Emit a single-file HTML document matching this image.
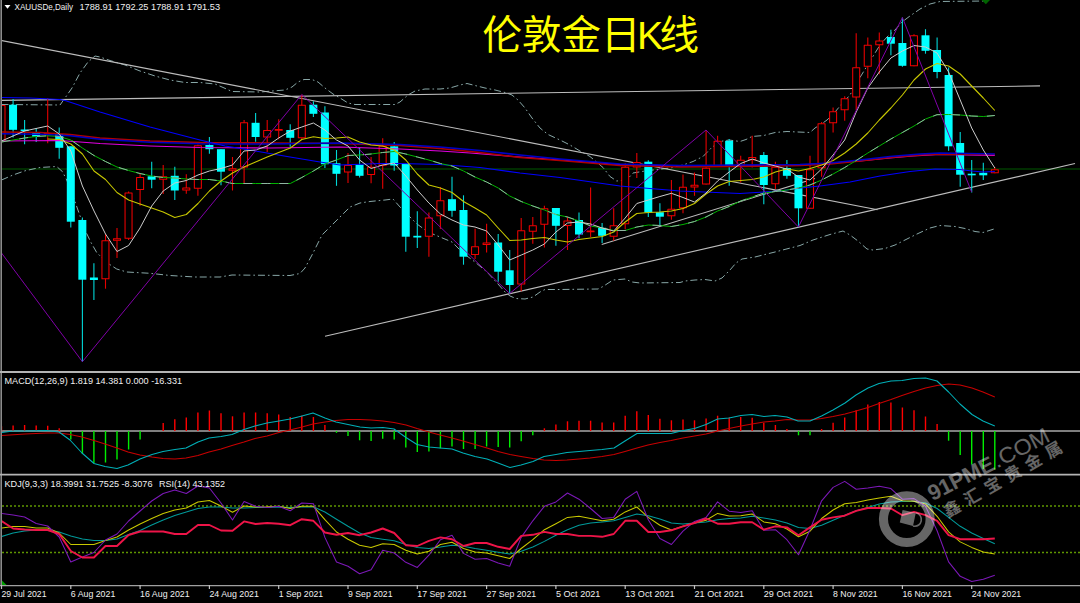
<!DOCTYPE html>
<html><head><meta charset="utf-8"><title>XAUUSD Daily</title>
<style>html,body{margin:0;padding:0;background:#000;}body{width:1080px;height:603px;overflow:hidden;position:relative;font-family:"Liberation Sans",sans-serif;}</style></head>
<body>
<svg width="1080" height="603" viewBox="0 0 1080 603" style="display:block;position:absolute;left:0;top:0">
<rect x="0" y="0" width="1080" height="603" fill="#000"/>
<defs><clipPath id="cm"><rect x="2" y="0" width="1078" height="371"/></clipPath><clipPath id="ck"><rect x="2" y="476" width="1078" height="109"/></clipPath><clipPath id="cd"><rect x="2" y="374" width="1078" height="100"/></clipPath></defs>
<g clip-path="url(#cm)" stroke-linecap="butt" stroke-linejoin="round">
<line x1="2.0" y1="169.0" x2="1080.0" y2="169.0" stroke="#005800" stroke-width="1.1" />
<polyline points="1.5,104.5 60.0,105.0 65.0,98.0 72.0,88.0 80.0,73.0 88.0,62.0 95.0,56.0 100.0,57.0 110.0,60.5 125.0,65.0 140.0,71.0 155.0,76.0 170.0,80.0 185.0,82.5 200.0,82.5 215.0,84.0 222.0,87.0 232.0,91.5 260.0,92.0 285.0,90.0 292.0,87.0 298.0,82.0 304.0,79.5 312.0,79.5 318.0,82.0 325.0,88.0 333.0,94.0 340.0,98.0 348.0,103.0 355.0,104.5 395.0,104.5 400.0,102.0 408.0,95.0 415.0,91.0 425.0,89.0 440.0,89.0 450.0,88.0 460.0,85.0 467.0,83.5 475.0,85.5 485.0,88.0 495.0,90.0 505.0,92.5 512.0,95.0 518.0,100.0 525.0,108.0 532.0,118.0 540.0,128.0 548.0,134.5 560.0,140.0 570.0,145.0 580.0,151.0 590.0,156.5 603.0,167.5 610.0,176.5 616.7,181.0 626.7,180.0 633.0,173.0 645.0,171.0 670.0,168.0 683.0,165.0 693.0,161.5 703.0,156.5 711.7,147.5 720.0,141.5 729.0,140.0 740.0,141.5 746.0,139.5 752.0,136.5 763.8,135.5 775.0,132.5 787.0,131.5 798.0,132.0 810.0,132.5 815.0,128.0 821.5,124.0 827.0,120.0 833.0,114.5 840.0,106.0 850.0,95.0 856.0,84.0 867.0,66.0 880.0,45.0 887.0,37.0 895.0,30.0 902.0,22.0 910.0,16.0 920.0,9.0 930.0,4.0 940.0,1.5 985.0,1.0" fill="none" stroke="#8fb0b0" stroke-width="0.95" stroke-dasharray="7 3 1.6 3"/>
<polyline points="1.5,180.0 13.0,175.0 25.0,170.8 40.0,167.5 56.7,166.5 62.5,171.7 66.7,180.0 70.0,188.0 75.0,201.7 79.0,213.0 85.0,230.0 91.0,242.5 96.7,252.5 106.7,262.5 116.7,269.0 126.7,272.0 150.0,273.3 170.0,275.5 195.0,277.0 220.0,277.0 232.0,275.0 290.0,275.5 300.0,273.5 305.0,268.0 312.0,255.0 322.0,235.0 330.0,227.0 340.0,217.0 350.0,207.0 360.0,203.0 370.0,201.5 385.0,200.0 393.0,199.0 400.0,207.0 411.0,218.0 417.0,224.0 428.0,232.0 440.0,237.0 452.0,242.0 463.0,253.0 475.0,262.0 487.0,272.0 498.0,284.0 505.0,292.0 510.0,296.0 516.0,298.5 525.0,299.0 533.0,297.0 540.0,292.0 545.0,289.5 560.0,289.5 598.0,289.0 603.0,286.5 613.0,280.0 625.0,279.0 632.0,282.0 640.0,283.0 680.0,282.5 685.0,281.0 695.0,280.0 705.0,279.5 715.0,281.0 722.0,278.0 730.0,270.0 736.0,263.0 742.0,259.0 755.0,257.0 775.0,252.0 800.0,245.5 813.0,240.0 830.0,234.5 843.0,231.0 850.0,235.0 858.0,241.0 867.0,249.0 873.0,250.0 885.0,248.5 895.0,245.0 905.0,240.0 917.0,234.0 930.0,228.0 940.0,225.5 955.0,226.5 965.0,228.5 975.0,231.5 983.0,232.5 994.0,229.0" fill="none" stroke="#8fb0b0" stroke-width="0.95" stroke-dasharray="7 3 1.6 3"/>
<line x1="0.0" y1="40.2" x2="877.5" y2="209.7" stroke="#bcbcbc" stroke-width="1.1" />
<line x1="0.0" y1="100.4" x2="1040.0" y2="85.9" stroke="#bcbcbc" stroke-width="1.1" />
<line x1="325.0" y1="336.2" x2="1075.0" y2="163.5" stroke="#bcbcbc" stroke-width="1.1" />
<line x1="601.7" y1="244.5" x2="815.0" y2="178.5" stroke="#bcbcbc" stroke-width="1.1" />
<line x1="1.5" y1="105.0" x2="1.5" y2="142.0" stroke="#e60000" stroke-width="1.1" />
<rect x="-2.00" y="105.5" width="7" height="36.0" fill="#000" stroke="#f00000" stroke-width="1.05"/>
<line x1="13.1" y1="99.0" x2="13.1" y2="137.5" stroke="#00d8d8" stroke-width="1.1" />
<rect x="9.05" y="104.7" width="8" height="25.1" fill="#00ffff"/>
<line x1="24.6" y1="120.0" x2="24.6" y2="144.2" stroke="#00d8d8" stroke-width="1.1" />
<rect x="20.60" y="129.5" width="8" height="1.6" fill="#00ffff"/>
<line x1="36.2" y1="128.3" x2="36.2" y2="142.0" stroke="#00d8d8" stroke-width="1.1" />
<rect x="32.15" y="132.5" width="8" height="4.2" fill="#00ffff"/>
<line x1="47.7" y1="98.3" x2="47.7" y2="143.3" stroke="#e60000" stroke-width="1.1" />
<rect x="44.20" y="133.5" width="7" height="0.8" fill="#000" stroke="#f00000" stroke-width="1.05"/>
<line x1="59.2" y1="127.5" x2="59.2" y2="158.7" stroke="#00d8d8" stroke-width="1.1" />
<rect x="55.25" y="134.2" width="8" height="13.6" fill="#00ffff"/>
<line x1="70.8" y1="146.3" x2="70.8" y2="227.5" stroke="#00d8d8" stroke-width="1.1" />
<rect x="66.80" y="146.3" width="8" height="75.4" fill="#00ffff"/>
<line x1="82.4" y1="217.5" x2="82.4" y2="361.7" stroke="#00d8d8" stroke-width="1.1" />
<rect x="78.35" y="220.0" width="8" height="59.7" fill="#00ffff"/>
<line x1="93.9" y1="263.3" x2="93.9" y2="300.0" stroke="#00d8d8" stroke-width="1.1" />
<rect x="89.90" y="277.5" width="8" height="2.5" fill="#00ffff"/>
<line x1="105.5" y1="234.2" x2="105.5" y2="288.7" stroke="#e60000" stroke-width="1.1" />
<rect x="101.95" y="240.8" width="7" height="37.9" fill="#000" stroke="#f00000" stroke-width="1.05"/>
<line x1="117.0" y1="228.0" x2="117.0" y2="258.0" stroke="#e60000" stroke-width="1.1" />
<rect x="113.50" y="238.8" width="7" height="1.5" fill="#000" stroke="#f00000" stroke-width="1.05"/>
<line x1="128.6" y1="191.5" x2="128.6" y2="240.0" stroke="#e60000" stroke-width="1.1" />
<rect x="125.05" y="193.0" width="7" height="45.2" fill="#000" stroke="#f00000" stroke-width="1.05"/>
<line x1="140.1" y1="173.3" x2="140.1" y2="205.8" stroke="#e60000" stroke-width="1.1" />
<rect x="136.60" y="177.5" width="7" height="12.0" fill="#000" stroke="#f00000" stroke-width="1.05"/>
<line x1="151.7" y1="161.7" x2="151.7" y2="188.3" stroke="#00d8d8" stroke-width="1.1" />
<rect x="147.65" y="176.3" width="8" height="3.4" fill="#00ffff"/>
<line x1="163.2" y1="165.0" x2="163.2" y2="194.0" stroke="#e60000" stroke-width="1.1" />
<rect x="159.70" y="176.8" width="7" height="2.4" fill="#000" stroke="#f00000" stroke-width="1.05"/>
<line x1="174.8" y1="166.7" x2="174.8" y2="200.0" stroke="#00d8d8" stroke-width="1.1" />
<rect x="170.75" y="175.8" width="8" height="14.7" fill="#00ffff"/>
<line x1="186.3" y1="174.2" x2="186.3" y2="193.7" stroke="#e60000" stroke-width="1.1" />
<rect x="182.80" y="188.0" width="7" height="2.0" fill="#000" stroke="#f00000" stroke-width="1.05"/>
<line x1="197.9" y1="144.5" x2="197.9" y2="195.8" stroke="#e60000" stroke-width="1.1" />
<rect x="194.35" y="145.8" width="7" height="42.4" fill="#000" stroke="#f00000" stroke-width="1.05"/>
<line x1="209.4" y1="137.0" x2="209.4" y2="153.7" stroke="#00d8d8" stroke-width="1.1" />
<rect x="205.40" y="145.0" width="8" height="4.2" fill="#00ffff"/>
<line x1="221.0" y1="149.2" x2="221.0" y2="185.3" stroke="#00d8d8" stroke-width="1.1" />
<rect x="216.95" y="149.2" width="8" height="22.5" fill="#00ffff"/>
<line x1="232.5" y1="157.0" x2="232.5" y2="190.5" stroke="#e60000" stroke-width="1.1" />
<rect x="229.00" y="168.8" width="7" height="1.5" fill="#000" stroke="#f00000" stroke-width="1.05"/>
<line x1="244.1" y1="120.0" x2="244.1" y2="183.0" stroke="#e60000" stroke-width="1.1" />
<rect x="240.55" y="122.7" width="7" height="44.3" fill="#000" stroke="#f00000" stroke-width="1.05"/>
<line x1="255.6" y1="113.0" x2="255.6" y2="141.7" stroke="#00d8d8" stroke-width="1.1" />
<rect x="251.60" y="122.8" width="8" height="14.2" fill="#00ffff"/>
<line x1="267.2" y1="120.0" x2="267.2" y2="152.0" stroke="#e60000" stroke-width="1.1" />
<rect x="263.65" y="130.5" width="7" height="6.5" fill="#000" stroke="#f00000" stroke-width="1.05"/>
<line x1="278.7" y1="119.2" x2="278.7" y2="139.2" stroke="#e60000" stroke-width="1.1" />
<rect x="275.20" y="129.5" width="7" height="0.8" fill="#000" stroke="#f00000" stroke-width="1.05"/>
<line x1="290.2" y1="124.2" x2="290.2" y2="146.7" stroke="#00d8d8" stroke-width="1.1" />
<rect x="286.25" y="130.0" width="8" height="7.8" fill="#00ffff"/>
<line x1="301.8" y1="94.7" x2="301.8" y2="139.0" stroke="#e60000" stroke-width="1.1" />
<rect x="298.30" y="105.2" width="7" height="32.6" fill="#000" stroke="#f00000" stroke-width="1.05"/>
<line x1="313.4" y1="101.3" x2="313.4" y2="117.0" stroke="#00d8d8" stroke-width="1.1" />
<rect x="309.35" y="104.7" width="8" height="9.1" fill="#00ffff"/>
<line x1="324.9" y1="106.3" x2="324.9" y2="168.0" stroke="#00d8d8" stroke-width="1.1" />
<rect x="320.90" y="112.5" width="8" height="51.7" fill="#00ffff"/>
<line x1="336.5" y1="150.0" x2="336.5" y2="185.8" stroke="#00d8d8" stroke-width="1.1" />
<rect x="332.45" y="163.3" width="8" height="10.5" fill="#00ffff"/>
<line x1="348.0" y1="153.0" x2="348.0" y2="183.0" stroke="#e60000" stroke-width="1.1" />
<rect x="344.50" y="165.5" width="7" height="6.5" fill="#000" stroke="#f00000" stroke-width="1.05"/>
<line x1="359.6" y1="148.0" x2="359.6" y2="177.5" stroke="#00d8d8" stroke-width="1.1" />
<rect x="355.55" y="164.7" width="8" height="11.1" fill="#00ffff"/>
<line x1="371.1" y1="157.0" x2="371.1" y2="183.3" stroke="#e60000" stroke-width="1.1" />
<rect x="367.60" y="167.2" width="7" height="7.3" fill="#000" stroke="#f00000" stroke-width="1.05"/>
<line x1="382.7" y1="138.3" x2="382.7" y2="188.7" stroke="#e60000" stroke-width="1.1" />
<rect x="379.15" y="146.3" width="7" height="19.0" fill="#000" stroke="#f00000" stroke-width="1.05"/>
<line x1="394.2" y1="142.0" x2="394.2" y2="170.8" stroke="#00d8d8" stroke-width="1.1" />
<rect x="390.20" y="146.3" width="8" height="19.2" fill="#00ffff"/>
<line x1="405.8" y1="163.7" x2="405.8" y2="251.7" stroke="#00d8d8" stroke-width="1.1" />
<rect x="401.75" y="163.7" width="8" height="73.0" fill="#00ffff"/>
<line x1="417.3" y1="211.3" x2="417.3" y2="248.0" stroke="#00d8d8" stroke-width="1.1" />
<rect x="413.30" y="235.8" width="8" height="1.7" fill="#00ffff"/>
<line x1="428.9" y1="212.5" x2="428.9" y2="256.7" stroke="#e60000" stroke-width="1.1" />
<rect x="425.35" y="218.0" width="7" height="18.2" fill="#000" stroke="#f00000" stroke-width="1.05"/>
<line x1="440.4" y1="187.0" x2="440.4" y2="229.0" stroke="#e60000" stroke-width="1.1" />
<rect x="436.90" y="200.8" width="7" height="15.0" fill="#000" stroke="#f00000" stroke-width="1.05"/>
<line x1="452.0" y1="176.7" x2="452.0" y2="216.7" stroke="#00d8d8" stroke-width="1.1" />
<rect x="447.95" y="199.2" width="8" height="11.6" fill="#00ffff"/>
<line x1="463.5" y1="195.3" x2="463.5" y2="264.7" stroke="#00d8d8" stroke-width="1.1" />
<rect x="459.50" y="210.0" width="8" height="46.7" fill="#00ffff"/>
<line x1="475.1" y1="228.7" x2="475.1" y2="259.0" stroke="#e60000" stroke-width="1.1" />
<rect x="471.55" y="246.8" width="7" height="7.7" fill="#000" stroke="#f00000" stroke-width="1.05"/>
<line x1="486.6" y1="223.7" x2="486.6" y2="252.5" stroke="#e60000" stroke-width="1.1" />
<rect x="483.10" y="243.0" width="7" height="1.5" fill="#000" stroke="#f00000" stroke-width="1.05"/>
<line x1="498.2" y1="234.0" x2="498.2" y2="281.7" stroke="#00d8d8" stroke-width="1.1" />
<rect x="494.15" y="242.5" width="8" height="29.2" fill="#00ffff"/>
<line x1="509.7" y1="250.0" x2="509.7" y2="293.3" stroke="#00d8d8" stroke-width="1.1" />
<rect x="505.70" y="270.3" width="8" height="14.7" fill="#00ffff"/>
<line x1="521.2" y1="218.0" x2="521.2" y2="291.3" stroke="#e60000" stroke-width="1.1" />
<rect x="517.75" y="230.8" width="7" height="53.2" fill="#000" stroke="#f00000" stroke-width="1.05"/>
<line x1="532.8" y1="217.0" x2="532.8" y2="243.7" stroke="#e60000" stroke-width="1.1" />
<rect x="529.30" y="225.8" width="7" height="5.4" fill="#000" stroke="#f00000" stroke-width="1.05"/>
<line x1="544.4" y1="205.8" x2="544.4" y2="247.5" stroke="#e60000" stroke-width="1.1" />
<rect x="540.85" y="208.8" width="7" height="15.4" fill="#000" stroke="#f00000" stroke-width="1.05"/>
<line x1="555.9" y1="208.0" x2="555.9" y2="245.8" stroke="#00d8d8" stroke-width="1.1" />
<rect x="551.90" y="208.0" width="8" height="17.8" fill="#00ffff"/>
<line x1="567.5" y1="216.7" x2="567.5" y2="250.0" stroke="#e60000" stroke-width="1.1" />
<rect x="563.95" y="221.0" width="7" height="4.5" fill="#000" stroke="#f00000" stroke-width="1.05"/>
<line x1="579.0" y1="212.5" x2="579.0" y2="238.3" stroke="#00d8d8" stroke-width="1.1" />
<rect x="575.00" y="220.0" width="8" height="14.5" fill="#00ffff"/>
<line x1="590.6" y1="187.5" x2="590.6" y2="237.0" stroke="#e60000" stroke-width="1.1" />
<rect x="587.05" y="231.0" width="7" height="0.8" fill="#000" stroke="#f00000" stroke-width="1.05"/>
<line x1="602.1" y1="223.0" x2="602.1" y2="243.0" stroke="#00d8d8" stroke-width="1.1" />
<rect x="598.10" y="227.8" width="8" height="8.0" fill="#00ffff"/>
<line x1="613.7" y1="208.3" x2="613.7" y2="240.8" stroke="#e60000" stroke-width="1.1" />
<rect x="610.15" y="225.8" width="7" height="10.4" fill="#000" stroke="#f00000" stroke-width="1.05"/>
<line x1="625.2" y1="163.3" x2="625.2" y2="229.2" stroke="#e60000" stroke-width="1.1" />
<rect x="621.70" y="167.2" width="7" height="56.6" fill="#000" stroke="#f00000" stroke-width="1.05"/>
<line x1="636.8" y1="153.0" x2="636.8" y2="178.0" stroke="#e60000" stroke-width="1.1" />
<rect x="633.25" y="162.5" width="7" height="4.5" fill="#000" stroke="#f00000" stroke-width="1.05"/>
<line x1="648.3" y1="160.3" x2="648.3" y2="217.0" stroke="#00d8d8" stroke-width="1.1" />
<rect x="644.30" y="161.7" width="8" height="50.8" fill="#00ffff"/>
<line x1="659.9" y1="203.3" x2="659.9" y2="225.0" stroke="#00d8d8" stroke-width="1.1" />
<rect x="655.85" y="212.2" width="8" height="4.5" fill="#00ffff"/>
<line x1="671.4" y1="180.0" x2="671.4" y2="219.7" stroke="#e60000" stroke-width="1.1" />
<rect x="667.90" y="209.2" width="7" height="6.6" fill="#000" stroke="#f00000" stroke-width="1.05"/>
<line x1="683.0" y1="174.5" x2="683.0" y2="213.3" stroke="#e60000" stroke-width="1.1" />
<rect x="679.45" y="187.2" width="7" height="20.6" fill="#000" stroke="#f00000" stroke-width="1.05"/>
<line x1="694.5" y1="172.5" x2="694.5" y2="195.8" stroke="#e60000" stroke-width="1.1" />
<rect x="691.00" y="185.2" width="7" height="1.8" fill="#000" stroke="#f00000" stroke-width="1.05"/>
<line x1="706.1" y1="130.0" x2="706.1" y2="184.5" stroke="#e60000" stroke-width="1.1" />
<rect x="702.55" y="168.3" width="7" height="15.7" fill="#000" stroke="#f00000" stroke-width="1.05"/>
<line x1="717.6" y1="135.8" x2="717.6" y2="167.0" stroke="#e60000" stroke-width="1.1" />
<rect x="714.10" y="141.3" width="7" height="25.2" fill="#000" stroke="#f00000" stroke-width="1.05"/>
<line x1="729.2" y1="139.0" x2="729.2" y2="185.8" stroke="#00d8d8" stroke-width="1.1" />
<rect x="725.15" y="140.8" width="8" height="25.0" fill="#00ffff"/>
<line x1="740.7" y1="155.8" x2="740.7" y2="182.5" stroke="#e60000" stroke-width="1.1" />
<rect x="737.20" y="160.2" width="7" height="5.1" fill="#000" stroke="#f00000" stroke-width="1.05"/>
<line x1="752.2" y1="135.8" x2="752.2" y2="167.5" stroke="#e60000" stroke-width="1.1" />
<rect x="748.75" y="157.5" width="7" height="2.3" fill="#000" stroke="#f00000" stroke-width="1.05"/>
<line x1="763.8" y1="152.0" x2="763.8" y2="204.2" stroke="#00d8d8" stroke-width="1.1" />
<rect x="759.80" y="155.0" width="8" height="30.0" fill="#00ffff"/>
<line x1="775.4" y1="161.7" x2="775.4" y2="189.0" stroke="#e60000" stroke-width="1.1" />
<rect x="771.85" y="167.2" width="7" height="16.5" fill="#000" stroke="#f00000" stroke-width="1.05"/>
<line x1="786.9" y1="160.0" x2="786.9" y2="178.7" stroke="#00d8d8" stroke-width="1.1" />
<rect x="782.90" y="168.0" width="8" height="7.8" fill="#00ffff"/>
<line x1="798.5" y1="175.0" x2="798.5" y2="227.2" stroke="#00d8d8" stroke-width="1.1" />
<rect x="794.45" y="175.0" width="8" height="33.3" fill="#00ffff"/>
<line x1="810.0" y1="155.8" x2="810.0" y2="208.8" stroke="#e60000" stroke-width="1.1" />
<rect x="806.50" y="169.7" width="7" height="38.6" fill="#000" stroke="#f00000" stroke-width="1.05"/>
<line x1="821.6" y1="122.0" x2="821.6" y2="176.7" stroke="#e60000" stroke-width="1.1" />
<rect x="818.05" y="123.8" width="7" height="44.0" fill="#000" stroke="#f00000" stroke-width="1.05"/>
<line x1="833.1" y1="107.5" x2="833.1" y2="132.5" stroke="#e60000" stroke-width="1.1" />
<rect x="829.60" y="111.8" width="7" height="11.0" fill="#000" stroke="#f00000" stroke-width="1.05"/>
<line x1="844.7" y1="96.3" x2="844.7" y2="120.8" stroke="#e60000" stroke-width="1.1" />
<rect x="841.15" y="98.8" width="7" height="11.0" fill="#000" stroke="#f00000" stroke-width="1.05"/>
<line x1="856.2" y1="33.3" x2="856.2" y2="110.0" stroke="#e60000" stroke-width="1.1" />
<rect x="852.70" y="67.7" width="7" height="29.3" fill="#000" stroke="#f00000" stroke-width="1.05"/>
<line x1="867.8" y1="37.5" x2="867.8" y2="78.3" stroke="#e60000" stroke-width="1.1" />
<rect x="864.25" y="45.2" width="7" height="21.0" fill="#000" stroke="#f00000" stroke-width="1.05"/>
<line x1="879.3" y1="32.5" x2="879.3" y2="74.2" stroke="#e60000" stroke-width="1.1" />
<rect x="875.80" y="41.0" width="7" height="3.8" fill="#000" stroke="#f00000" stroke-width="1.05"/>
<line x1="890.9" y1="29.7" x2="890.9" y2="55.3" stroke="#00d8d8" stroke-width="1.1" />
<rect x="886.85" y="37.0" width="8" height="6.7" fill="#00ffff"/>
<line x1="902.4" y1="17.5" x2="902.4" y2="66.7" stroke="#00d8d8" stroke-width="1.1" />
<rect x="898.40" y="43.0" width="8" height="22.8" fill="#00ffff"/>
<line x1="914.0" y1="34.2" x2="914.0" y2="66.3" stroke="#e60000" stroke-width="1.1" />
<rect x="910.45" y="35.8" width="7" height="30.0" fill="#000" stroke="#f00000" stroke-width="1.05"/>
<line x1="925.5" y1="29.2" x2="925.5" y2="53.7" stroke="#00d8d8" stroke-width="1.1" />
<rect x="921.50" y="35.3" width="8" height="15.5" fill="#00ffff"/>
<line x1="937.1" y1="37.5" x2="937.1" y2="78.3" stroke="#00d8d8" stroke-width="1.1" />
<rect x="933.05" y="50.0" width="8" height="22.0" fill="#00ffff"/>
<line x1="948.6" y1="67.5" x2="948.6" y2="150.8" stroke="#00d8d8" stroke-width="1.1" />
<rect x="944.60" y="75.0" width="8" height="71.3" fill="#00ffff"/>
<line x1="960.2" y1="132.0" x2="960.2" y2="186.7" stroke="#00d8d8" stroke-width="1.1" />
<rect x="956.15" y="143.0" width="8" height="31.7" fill="#00ffff"/>
<line x1="971.7" y1="160.0" x2="971.7" y2="192.5" stroke="#00d8d8" stroke-width="1.1" />
<rect x="967.70" y="173.7" width="8" height="1.6" fill="#00ffff"/>
<line x1="983.3" y1="162.8" x2="983.3" y2="180.0" stroke="#00d8d8" stroke-width="1.1" />
<rect x="979.25" y="172.8" width="8" height="2.5" fill="#00ffff"/>
<line x1="994.8" y1="167.0" x2="994.8" y2="173.3" stroke="#e60000" stroke-width="1.1" />
<rect x="991.30" y="169.7" width="7" height="3.1" fill="#000" stroke="#f00000" stroke-width="1.05"/>
<polyline points="1.5,141.0 60.0,140.5 100.0,143.5 150.0,146.0 200.0,147.5 270.0,148.0 340.0,147.0 400.0,149.0 440.0,151.0 470.0,153.0 520.0,157.0 560.0,160.0 620.0,164.5 680.0,166.0 740.0,166.0 800.0,165.0 860.0,161.0 890.0,158.0 913.0,156.0 940.0,154.5 994.8,155.3" fill="none" stroke="#e000e0" stroke-width="1.2" />
<polyline points="1.5,132.0 40.0,132.5 70.0,134.5 100.0,138.0 150.0,141.0 200.0,142.5 270.0,143.0 340.0,143.5 400.0,145.5 440.0,148.5 480.0,152.5 520.0,157.5 560.0,160.5 620.0,165.5 680.0,167.0 740.0,166.5 800.0,165.5 830.0,164.0 860.0,161.0 890.0,157.5 920.0,155.0 940.0,154.0 994.8,154.5" fill="none" stroke="#b00000" stroke-width="1.6" />
<polyline points="1.5,133.8 40.0,134.2 70.0,135.8 100.0,139.2 150.0,142.2 200.0,143.7 270.0,144.0 340.0,143.0 400.0,144.5 440.0,147.0 480.0,150.5 520.0,155.0 560.0,159.0 620.0,164.0 680.0,165.5 740.0,165.0 800.0,164.5 830.0,163.0 860.0,160.0 890.0,156.5 920.0,154.0 940.0,153.0 994.8,154.0" fill="none" stroke="#0000c8" stroke-width="1.6" />
<polyline points="1.5,97.5 30.0,98.0 60.0,99.5 65.0,100.5 100.0,112.0 150.0,127.0 200.0,140.0 225.0,146.0 250.0,150.0 290.0,157.0 320.0,162.0 340.0,165.0 380.0,163.5 400.0,163.5 440.0,164.5 480.0,167.5 520.0,173.0 560.0,177.5 620.0,186.0 680.0,191.0 740.0,193.5 780.0,191.0 800.0,188.0 820.0,186.0 850.0,182.0 880.0,176.0 910.0,171.5 935.0,169.0 960.0,169.5 972.0,171.0 983.0,172.0 994.8,171.5" fill="none" stroke="#0000ff" stroke-width="1.1" />
<polyline points="1.5,142.0 13.0,140.0 24.6,138.0 36.0,136.5 47.7,135.8 59.3,136.5 70.8,140.0 82.4,148.0 94.0,155.5 105.5,161.5 117.0,167.0 128.6,170.5 140.0,173.5 151.7,176.0 163.2,177.5 174.8,178.0 186.3,179.0 198.0,179.5 209.4,179.5 221.0,181.0 232.5,183.5 244.0,183.5 255.6,183.5 267.2,183.5 278.7,183.5 290.3,183.5 301.8,177.5 313.4,171.0 324.9,164.0 336.5,160.0 348.0,155.5 359.6,155.0 371.1,154.0 382.7,152.5 394.2,151.5 405.8,154.0 417.3,157.0 428.9,160.0 440.4,163.5 452.0,166.0 463.5,171.0 475.0,177.0 486.6,182.0 498.2,188.0 509.7,196.0 521.3,201.5 532.8,206.0 544.4,210.0 555.9,214.5 567.5,217.0 579.0,221.0 590.6,226.0 602.1,228.0 613.7,230.5 625.2,230.5 636.8,227.0 648.3,225.0 659.9,225.5 671.4,226.5 683.0,224.5 694.5,221.5 706.0,217.0 717.6,211.0 729.2,206.5 740.7,201.0 752.3,197.0 763.8,193.0 775.4,191.5 786.9,190.0 798.5,188.0 810.0,185.0 821.6,180.0 833.1,174.0 844.7,167.5 856.2,160.5 867.8,153.0 879.3,146.0 890.9,139.0 902.4,132.5 914.0,126.0 925.5,119.0 937.0,114.7 948.6,114.5 960.2,115.0 971.7,116.0 983.3,116.5 994.8,115.5" fill="none" stroke="#00b400" stroke-width="1.0" />
<polyline points="1.5,142.0 13.0,140.0 24.6,138.0 36.0,136.5 47.7,135.8 59.3,136.5 70.8,140.0 82.4,148.0 94.0,155.5 105.5,161.5 117.0,167.0 128.6,170.5 140.0,173.5 151.7,176.0 163.2,177.5 174.8,178.0 186.3,179.0 198.0,179.5 209.4,179.5 221.0,181.0 232.5,183.5 244.0,183.5 255.6,183.5 267.2,183.5 278.7,183.5 290.3,183.5 301.8,177.5 313.4,171.0 324.9,164.0 336.5,160.0 348.0,155.5 359.6,155.0 371.1,154.0 382.7,152.5 394.2,151.5 405.8,154.0 417.3,157.0 428.9,160.0 440.4,163.5 452.0,166.0 463.5,171.0 475.0,177.0 486.6,182.0 498.2,188.0 509.7,196.0 521.3,201.5 532.8,206.0 544.4,210.0 555.9,214.5 567.5,217.0 579.0,221.0 590.6,226.0 602.1,228.0 613.7,230.5 625.2,230.5 636.8,227.0 648.3,225.0 659.9,225.5 671.4,226.5 683.0,224.5 694.5,221.5 706.0,217.0 717.6,211.0 729.2,206.5 740.7,201.0 752.3,197.0 763.8,193.0 775.4,191.5 786.9,190.0 798.5,188.0 810.0,185.0 821.6,180.0 833.1,174.0 844.7,167.5 856.2,160.5 867.8,153.0 879.3,146.0 890.9,139.0 902.4,132.5 914.0,126.0 925.5,119.0 937.0,114.7 948.6,114.5 960.2,115.0 971.7,116.0 983.3,116.5 994.8,115.5" fill="none" stroke="#9fb4b4" stroke-width="0.9" stroke-dasharray="9 9"/>
<polyline points="47.7,139.0 59.3,139.5 70.8,144.0 82.4,154.0 94.0,171.0 105.5,179.5 117.0,192.5 128.6,200.0 140.0,204.0 151.7,208.0 163.2,212.0 174.8,217.5 186.3,214.5 198.0,203.5 209.4,191.0 221.0,181.0 232.5,173.0 244.0,167.0 255.6,162.0 267.2,157.0 278.7,152.5 290.3,148.0 301.8,139.5 313.4,136.7 324.9,138.5 336.5,138.0 348.0,137.0 359.6,142.0 371.1,145.0 382.7,146.0 394.2,150.0 405.8,160.0 417.3,174.0 428.9,185.0 440.4,188.0 452.0,192.5 463.5,201.5 475.0,208.0 486.6,215.0 498.2,228.0 509.7,240.5 521.3,240.0 532.8,238.5 544.4,237.5 555.9,240.0 567.5,242.0 579.0,239.5 590.6,238.0 602.1,236.5 613.7,232.0 625.2,222.0 636.8,213.5 648.3,212.5 659.9,212.0 671.4,211.0 683.0,208.5 694.5,203.5 706.0,194.0 717.6,186.0 729.2,181.5 740.7,180.5 752.3,179.5 763.8,177.0 775.4,172.0 786.9,169.0 798.5,171.0 810.0,168.5 821.6,165.0 833.1,160.5 844.7,153.0 856.2,144.0 867.8,133.0 879.3,120.0 890.9,108.0 902.4,95.0 914.0,80.0 925.5,69.0 937.0,63.5 948.6,66.0 960.2,74.0 971.7,86.0 983.3,98.0 994.8,110.5" fill="none" stroke="#c8c800" stroke-width="1.1" />
<polyline points="1.5,141.0 13.0,136.0 24.6,131.0 36.0,128.5 47.7,126.0 59.3,134.0 70.8,151.0 82.4,186.0 94.0,211.0 105.5,234.0 117.0,251.5 128.6,245.5 140.0,228.0 151.7,206.0 163.2,191.0 174.8,183.0 186.3,180.5 198.0,175.0 209.4,171.0 221.0,168.5 232.5,165.0 244.0,151.0 255.6,150.0 267.2,146.0 278.7,138.0 290.3,131.0 301.8,127.0 313.4,123.0 324.9,130.0 336.5,140.0 348.0,146.0 359.6,160.0 371.1,168.5 382.7,165.0 394.2,163.0 405.8,176.0 417.3,190.0 428.9,203.0 440.4,214.0 452.0,220.0 463.5,225.0 475.0,227.0 486.6,231.0 498.2,245.0 509.7,260.0 521.3,255.0 532.8,250.0 544.4,244.0 555.9,232.0 567.5,223.0 579.0,222.0 590.6,224.0 602.1,228.0 613.7,231.0 625.2,218.0 636.8,203.5 648.3,200.0 659.9,196.5 671.4,193.3 683.0,197.5 694.5,202.0 706.0,193.0 717.6,181.0 729.2,172.0 740.7,163.5 752.3,159.0 763.8,163.0 775.4,166.0 786.9,169.0 798.5,177.0 810.0,180.0 821.6,169.0 833.1,155.0 844.7,140.0 856.2,112.0 867.8,88.0 879.3,72.0 890.9,58.0 902.4,51.0 914.0,45.5 925.5,47.0 937.0,53.0 948.6,72.0 960.2,100.0 971.7,128.0 983.3,150.0 994.8,168.0" fill="none" stroke="#cccccc" stroke-width="1.0" />
<polyline points="1.5,253.0 82.4,361.7 301.8,94.5 509.7,293.5 706.0,130.0 798.4,227.0 902.4,17.5 971.6,192.0" fill="none" stroke="#8000a8" stroke-width="1.0" />
<polygon points="981.5,0 990,0 985.8,4.2" fill="#006400"/>
</g>
<g clip-path="url(#cd)" stroke-linejoin="round">
<line x1="2.0" y1="431.0" x2="1080.0" y2="431.0" stroke="#a8a8a8" stroke-width="1.6" />
<line x1="1.5" y1="431.0" x2="1.5" y2="426.3" stroke="#ff0000" stroke-width="1.4" />
<line x1="13.1" y1="431.0" x2="13.1" y2="425.5" stroke="#ff0000" stroke-width="1.4" />
<line x1="24.6" y1="431.0" x2="24.6" y2="425.0" stroke="#ff0000" stroke-width="1.4" />
<line x1="36.2" y1="431.0" x2="36.2" y2="425.5" stroke="#ff0000" stroke-width="1.4" />
<line x1="47.7" y1="431.0" x2="47.7" y2="425.7" stroke="#ff0000" stroke-width="1.4" />
<line x1="59.2" y1="431.0" x2="59.2" y2="428.3" stroke="#ff0000" stroke-width="1.4" />
<line x1="70.8" y1="431.0" x2="70.8" y2="439.5" stroke="#00ee00" stroke-width="1.4" />
<line x1="82.4" y1="431.0" x2="82.4" y2="453.7" stroke="#00ee00" stroke-width="1.4" />
<line x1="93.9" y1="431.0" x2="93.9" y2="463.0" stroke="#00ee00" stroke-width="1.4" />
<line x1="105.5" y1="431.0" x2="105.5" y2="462.5" stroke="#00ee00" stroke-width="1.4" />
<line x1="117.0" y1="431.0" x2="117.0" y2="459.5" stroke="#00ee00" stroke-width="1.4" />
<line x1="128.6" y1="431.0" x2="128.6" y2="449.5" stroke="#00ee00" stroke-width="1.4" />
<line x1="140.1" y1="431.0" x2="140.1" y2="439.5" stroke="#00ee00" stroke-width="1.4" />
<line x1="163.2" y1="431.0" x2="163.2" y2="423.0" stroke="#ff0000" stroke-width="1.4" />
<line x1="174.8" y1="431.0" x2="174.8" y2="419.3" stroke="#ff0000" stroke-width="1.4" />
<line x1="186.3" y1="431.0" x2="186.3" y2="417.5" stroke="#ff0000" stroke-width="1.4" />
<line x1="197.9" y1="431.0" x2="197.9" y2="412.5" stroke="#ff0000" stroke-width="1.4" />
<line x1="209.4" y1="431.0" x2="209.4" y2="410.5" stroke="#ff0000" stroke-width="1.4" />
<line x1="221.0" y1="431.0" x2="221.0" y2="413.3" stroke="#ff0000" stroke-width="1.4" />
<line x1="232.5" y1="431.0" x2="232.5" y2="416.3" stroke="#ff0000" stroke-width="1.4" />
<line x1="244.1" y1="431.0" x2="244.1" y2="412.5" stroke="#ff0000" stroke-width="1.4" />
<line x1="255.6" y1="431.0" x2="255.6" y2="412.5" stroke="#ff0000" stroke-width="1.4" />
<line x1="267.2" y1="431.0" x2="267.2" y2="413.3" stroke="#ff0000" stroke-width="1.4" />
<line x1="278.7" y1="431.0" x2="278.7" y2="414.5" stroke="#ff0000" stroke-width="1.4" />
<line x1="290.2" y1="431.0" x2="290.2" y2="417.0" stroke="#ff0000" stroke-width="1.4" />
<line x1="301.8" y1="431.0" x2="301.8" y2="415.7" stroke="#ff0000" stroke-width="1.4" />
<line x1="313.4" y1="431.0" x2="313.4" y2="417.0" stroke="#ff0000" stroke-width="1.4" />
<line x1="324.9" y1="431.0" x2="324.9" y2="425.0" stroke="#ff0000" stroke-width="1.4" />
<line x1="336.5" y1="431.0" x2="336.5" y2="432.8" stroke="#00ee00" stroke-width="1.4" />
<line x1="348.0" y1="431.0" x2="348.0" y2="436.0" stroke="#00ee00" stroke-width="1.4" />
<line x1="359.6" y1="431.0" x2="359.6" y2="440.3" stroke="#00ee00" stroke-width="1.4" />
<line x1="371.1" y1="431.0" x2="371.1" y2="441.0" stroke="#00ee00" stroke-width="1.4" />
<line x1="382.7" y1="431.0" x2="382.7" y2="438.7" stroke="#00ee00" stroke-width="1.4" />
<line x1="394.2" y1="431.0" x2="394.2" y2="439.5" stroke="#00ee00" stroke-width="1.4" />
<line x1="405.8" y1="431.0" x2="405.8" y2="447.5" stroke="#00ee00" stroke-width="1.4" />
<line x1="417.3" y1="431.0" x2="417.3" y2="452.0" stroke="#00ee00" stroke-width="1.4" />
<line x1="428.9" y1="431.0" x2="428.9" y2="451.5" stroke="#00ee00" stroke-width="1.4" />
<line x1="440.4" y1="431.0" x2="440.4" y2="448.3" stroke="#00ee00" stroke-width="1.4" />
<line x1="452.0" y1="431.0" x2="452.0" y2="446.5" stroke="#00ee00" stroke-width="1.4" />
<line x1="463.5" y1="431.0" x2="463.5" y2="449.0" stroke="#00ee00" stroke-width="1.4" />
<line x1="475.1" y1="431.0" x2="475.1" y2="449.0" stroke="#00ee00" stroke-width="1.4" />
<line x1="486.6" y1="431.0" x2="486.6" y2="446.5" stroke="#00ee00" stroke-width="1.4" />
<line x1="498.2" y1="431.0" x2="498.2" y2="447.0" stroke="#00ee00" stroke-width="1.4" />
<line x1="509.7" y1="431.0" x2="509.7" y2="447.5" stroke="#00ee00" stroke-width="1.4" />
<line x1="521.2" y1="431.0" x2="521.2" y2="441.3" stroke="#00ee00" stroke-width="1.4" />
<line x1="532.8" y1="431.0" x2="532.8" y2="435.3" stroke="#00ee00" stroke-width="1.4" />
<line x1="544.4" y1="431.0" x2="544.4" y2="428.3" stroke="#ff0000" stroke-width="1.4" />
<line x1="555.9" y1="431.0" x2="555.9" y2="424.5" stroke="#ff0000" stroke-width="1.4" />
<line x1="567.5" y1="431.0" x2="567.5" y2="421.3" stroke="#ff0000" stroke-width="1.4" />
<line x1="579.0" y1="431.0" x2="579.0" y2="420.7" stroke="#ff0000" stroke-width="1.4" />
<line x1="590.6" y1="431.0" x2="590.6" y2="420.7" stroke="#ff0000" stroke-width="1.4" />
<line x1="602.1" y1="431.0" x2="602.1" y2="422.5" stroke="#ff0000" stroke-width="1.4" />
<line x1="613.7" y1="431.0" x2="613.7" y2="422.5" stroke="#ff0000" stroke-width="1.4" />
<line x1="625.2" y1="431.0" x2="625.2" y2="415.7" stroke="#ff0000" stroke-width="1.4" />
<line x1="636.8" y1="431.0" x2="636.8" y2="411.3" stroke="#ff0000" stroke-width="1.4" />
<line x1="648.3" y1="431.0" x2="648.3" y2="415.0" stroke="#ff0000" stroke-width="1.4" />
<line x1="659.9" y1="431.0" x2="659.9" y2="418.7" stroke="#ff0000" stroke-width="1.4" />
<line x1="671.4" y1="431.0" x2="671.4" y2="420.3" stroke="#ff0000" stroke-width="1.4" />
<line x1="683.0" y1="431.0" x2="683.0" y2="419.5" stroke="#ff0000" stroke-width="1.4" />
<line x1="694.5" y1="431.0" x2="694.5" y2="420.3" stroke="#ff0000" stroke-width="1.4" />
<line x1="706.1" y1="431.0" x2="706.1" y2="418.5" stroke="#ff0000" stroke-width="1.4" />
<line x1="717.6" y1="431.0" x2="717.6" y2="415.7" stroke="#ff0000" stroke-width="1.4" />
<line x1="729.2" y1="431.0" x2="729.2" y2="417.5" stroke="#ff0000" stroke-width="1.4" />
<line x1="740.7" y1="431.0" x2="740.7" y2="417.0" stroke="#ff0000" stroke-width="1.4" />
<line x1="752.2" y1="431.0" x2="752.2" y2="417.7" stroke="#ff0000" stroke-width="1.4" />
<line x1="763.8" y1="431.0" x2="763.8" y2="422.7" stroke="#ff0000" stroke-width="1.4" />
<line x1="775.4" y1="431.0" x2="775.4" y2="425.0" stroke="#ff0000" stroke-width="1.4" />
<line x1="786.9" y1="431.0" x2="786.9" y2="429.0" stroke="#ff0000" stroke-width="1.4" />
<line x1="798.5" y1="431.0" x2="798.5" y2="435.3" stroke="#00ee00" stroke-width="1.4" />
<line x1="810.0" y1="431.0" x2="810.0" y2="435.3" stroke="#00ee00" stroke-width="1.4" />
<line x1="821.6" y1="431.0" x2="821.6" y2="429.0" stroke="#ff0000" stroke-width="1.4" />
<line x1="833.1" y1="431.0" x2="833.1" y2="422.7" stroke="#ff0000" stroke-width="1.4" />
<line x1="844.7" y1="431.0" x2="844.7" y2="417.5" stroke="#ff0000" stroke-width="1.4" />
<line x1="856.2" y1="431.0" x2="856.2" y2="410.3" stroke="#ff0000" stroke-width="1.4" />
<line x1="867.8" y1="431.0" x2="867.8" y2="404.5" stroke="#ff0000" stroke-width="1.4" />
<line x1="879.3" y1="431.0" x2="879.3" y2="402.0" stroke="#ff0000" stroke-width="1.4" />
<line x1="890.9" y1="431.0" x2="890.9" y2="402.5" stroke="#ff0000" stroke-width="1.4" />
<line x1="902.4" y1="431.0" x2="902.4" y2="407.5" stroke="#ff0000" stroke-width="1.4" />
<line x1="914.0" y1="431.0" x2="914.0" y2="410.3" stroke="#ff0000" stroke-width="1.4" />
<line x1="925.5" y1="431.0" x2="925.5" y2="416.5" stroke="#ff0000" stroke-width="1.4" />
<line x1="937.1" y1="431.0" x2="937.1" y2="424.0" stroke="#ff0000" stroke-width="1.4" />
<line x1="948.6" y1="431.0" x2="948.6" y2="440.7" stroke="#00ee00" stroke-width="1.4" />
<line x1="960.2" y1="431.0" x2="960.2" y2="455.0" stroke="#00ee00" stroke-width="1.4" />
<line x1="971.7" y1="431.0" x2="971.7" y2="464.5" stroke="#00ee00" stroke-width="1.4" />
<line x1="983.3" y1="431.0" x2="983.3" y2="469.0" stroke="#00ee00" stroke-width="1.4" />
<line x1="994.8" y1="431.0" x2="994.8" y2="469.5" stroke="#00ee00" stroke-width="1.4" />
<polyline points="1.5,435.5 25.0,434.0 47.0,433.0 59.0,433.0 70.0,434.5 82.0,437.0 94.0,440.5 105.0,444.0 117.0,448.0 128.0,452.0 140.0,455.0 152.0,457.0 163.0,458.5 175.0,459.0 186.0,458.0 198.0,455.5 209.0,452.0 221.0,449.0 232.0,445.5 244.0,442.0 255.0,438.5 267.0,436.0 279.0,432.5 290.0,430.0 302.0,427.0 313.0,424.0 325.0,422.0 336.0,420.5 348.0,419.5 360.0,419.5 371.0,420.0 383.0,421.0 394.0,422.5 406.0,425.0 417.0,428.5 429.0,432.0 440.0,435.0 452.0,438.0 463.0,441.0 475.0,444.5 487.0,448.0 498.0,451.5 510.0,454.5 521.0,456.5 533.0,458.5 544.0,460.0 556.0,460.5 567.0,460.0 579.0,459.0 590.0,458.0 602.0,456.5 614.0,454.5 625.0,451.5 637.0,448.0 648.0,445.0 660.0,442.5 671.0,440.5 683.0,438.0 694.5,436.0 706.0,434.0 717.6,431.0 729.0,428.5 741.0,426.0 752.0,424.0 764.0,422.0 775.0,421.0 787.0,419.5 798.0,420.0 810.0,420.0 821.5,418.5 833.0,416.5 845.0,414.0 856.0,411.0 868.0,407.5 879.0,403.5 891.0,399.5 902.0,395.5 914.0,391.5 925.5,388.0 937.0,385.5 948.6,384.0 960.0,385.0 972.0,388.0 983.0,392.0 994.8,397.0" fill="none" stroke="#c80000" stroke-width="1.05" />
<polyline points="1.5,432.5 13.0,431.0 25.0,431.0 47.0,430.5 59.0,432.0 70.0,440.0 82.0,453.0 94.0,463.5 105.0,466.5 117.0,468.5 128.0,465.0 140.0,459.0 152.0,454.5 163.0,451.5 175.0,449.5 186.0,448.0 198.0,442.0 209.0,438.0 221.0,436.5 232.0,434.5 244.0,429.5 255.0,426.0 267.0,423.0 279.0,421.0 290.0,419.0 302.0,416.0 313.0,413.0 325.0,418.0 336.0,422.0 348.0,424.5 360.0,427.0 371.0,428.0 383.0,427.5 394.0,429.0 406.0,437.5 417.0,444.5 429.0,447.0 440.0,448.0 452.0,449.0 463.0,453.0 475.0,456.5 487.0,459.0 498.0,463.0 510.0,467.5 521.0,465.0 533.0,461.5 544.0,456.5 556.0,454.5 567.0,452.5 579.0,451.5 590.0,450.5 602.0,449.5 614.0,448.0 625.0,441.0 637.0,433.5 648.0,433.5 660.0,433.5 671.0,433.5 683.0,430.5 694.5,428.5 706.0,424.5 717.6,419.0 729.0,418.0 741.0,415.5 752.0,414.5 764.0,416.5 775.0,415.5 787.0,417.0 798.0,421.0 810.0,421.0 821.5,416.0 833.0,410.0 845.0,403.0 856.0,395.0 868.0,388.0 879.0,383.5 891.0,381.0 902.0,380.5 914.0,378.5 925.5,378.0 937.0,381.0 948.6,392.0 960.0,404.0 972.0,414.5 983.0,421.0 994.8,426.0" fill="none" stroke="#00b0b8" stroke-width="1.05" />
</g>
<g clip-path="url(#ck)" stroke-linejoin="round">
<line x1="2.0" y1="506.0" x2="1080.0" y2="506.0" stroke="#5f9600" stroke-width="1.4" stroke-dasharray="2 2"/>
<line x1="2.0" y1="552.5" x2="1080.0" y2="552.5" stroke="#5f9600" stroke-width="1.4" stroke-dasharray="2 2"/>
<polyline points="1.5,536.5 13.1,533.0 24.6,531.0 36.2,530.0 47.7,530.0 59.2,532.0 70.8,536.0 82.4,539.0 93.9,540.5 105.5,540.5 117.0,539.0 128.6,534.5 140.1,530.5 151.7,525.0 163.2,520.0 174.8,515.5 186.3,512.0 197.9,508.5 209.4,507.0 221.0,507.0 232.5,508.0 244.1,508.0 255.6,507.4 267.2,507.4 278.7,507.0 290.2,507.4 301.8,507.0 313.4,506.8 324.9,512.0 336.5,519.2 348.0,526.3 359.6,533.0 371.1,537.4 382.7,539.2 394.2,540.8 405.8,544.5 417.3,547.4 428.9,548.5 440.4,547.0 452.0,545.2 463.5,546.3 475.1,548.5 486.6,550.3 498.2,552.3 509.7,554.0 521.2,551.2 532.8,547.0 544.4,541.4 555.9,535.2 567.5,529.7 579.0,525.2 590.6,523.0 602.1,521.9 613.7,520.8 625.2,517.4 636.8,514.0 648.3,515.7 659.9,519.0 671.4,523.0 683.0,524.0 694.5,523.0 706.1,521.9 717.6,519.7 729.2,518.5 740.7,517.9 752.2,516.3 763.8,518.0 775.4,520.0 786.9,523.0 798.5,527.4 810.0,528.5 821.6,525.2 833.1,520.3 844.7,515.2 856.2,510.8 867.8,507.4 879.3,504.0 890.9,501.9 902.4,501.4 914.0,501.4 925.5,503.0 937.1,508.5 948.6,517.4 960.2,526.3 971.7,533.0 983.3,538.5 994.8,543.7" fill="none" stroke="#009a9a" stroke-width="1.05" />
<polyline points="1.5,528.0 13.1,526.5 24.6,526.5 36.2,528.0 47.7,528.0 59.2,533.0 70.8,544.5 82.4,544.5 93.9,544.5 105.5,540.5 117.0,537.0 128.6,530.0 140.1,524.0 151.7,518.5 163.2,513.5 174.8,510.0 186.3,508.0 197.9,502.0 209.4,500.5 221.0,506.0 232.5,512.3 244.1,506.0 255.6,507.0 267.2,506.8 278.7,506.3 290.2,508.5 301.8,506.3 313.4,506.3 324.9,519.7 336.5,532.0 348.0,539.2 359.6,545.2 371.1,547.4 382.7,543.7 394.2,544.5 405.8,550.3 417.3,554.0 428.9,551.2 440.4,544.5 452.0,542.3 463.5,548.5 475.1,551.9 486.6,553.0 498.2,555.7 509.7,558.5 521.2,548.5 532.8,539.7 544.4,529.7 555.9,523.7 567.5,517.4 579.0,516.3 590.6,518.5 602.1,520.8 613.7,519.2 625.2,511.9 636.8,507.0 648.3,517.4 659.9,525.2 671.4,530.0 683.0,526.3 694.5,523.0 706.1,520.3 717.6,513.4 729.2,515.9 740.7,515.7 752.2,514.0 763.8,521.9 775.4,523.7 786.9,529.0 798.5,536.8 810.0,531.2 821.6,518.5 833.1,510.0 844.7,503.7 856.2,502.5 867.8,500.0 879.3,498.0 890.9,496.3 902.4,500.8 914.0,501.2 925.5,504.0 937.1,516.3 948.6,531.9 960.2,541.9 971.7,547.4 983.3,551.9 994.8,554.0" fill="none" stroke="#c8c800" stroke-width="1.05" />
<polyline points="1.5,513.5 13.1,515.0 24.6,517.0 36.2,523.5 47.7,526.0 59.2,537.0 70.8,562.0 82.4,557.0 93.9,552.5 105.5,540.0 117.0,534.0 128.6,521.0 140.1,511.0 151.7,501.0 163.2,493.5 174.8,490.0 186.3,493.5 197.9,486.0 209.4,488.0 221.0,503.0 232.5,520.0 244.1,501.5 255.6,506.3 267.2,507.4 278.7,506.3 290.2,510.8 301.8,503.0 313.4,503.7 324.9,537.4 336.5,562.0 348.0,566.3 359.6,573.7 371.1,569.7 382.7,550.3 394.2,553.0 405.8,562.3 417.3,567.4 428.9,555.2 440.4,539.7 452.0,535.2 463.5,553.4 475.1,559.2 486.6,558.5 498.2,563.0 509.7,566.3 521.2,537.4 532.8,520.8 544.4,506.3 555.9,501.9 567.5,493.0 579.0,499.2 590.6,508.5 602.1,518.5 613.7,517.4 625.2,499.2 636.8,491.4 648.3,519.7 659.9,538.5 671.4,544.5 683.0,531.2 694.5,521.4 706.1,517.4 717.6,501.9 729.2,511.2 740.7,512.6 752.2,510.8 763.8,530.3 775.4,529.7 786.9,539.7 798.5,554.8 810.0,529.7 821.6,500.8 833.1,487.4 844.7,481.4 856.2,489.2 867.8,487.9 879.3,486.3 890.9,488.6 902.4,499.2 914.0,498.6 925.5,506.3 937.1,530.8 948.6,561.9 960.2,576.3 971.7,581.4 983.3,579.2 994.8,575.2" fill="none" stroke="#7c18b8" stroke-width="1.05" />
<polyline points="1.5,521.0 13.1,528.5 24.6,529.5 36.2,530.0 47.7,530.0 59.2,534.0 70.8,551.0 82.4,557.5 93.9,557.5 105.5,546.0 117.0,546.0 128.6,535.0 140.1,531.5 151.7,531.5 163.2,531.5 174.8,534.0 186.3,534.0 197.9,525.0 209.4,525.0 221.0,530.5 232.5,530.8 244.1,521.4 255.6,524.0 267.2,523.0 278.7,523.7 290.2,525.2 301.8,519.2 313.4,520.8 324.9,532.5 336.5,534.8 348.0,533.0 359.6,535.2 371.1,532.5 382.7,528.5 394.2,533.0 405.8,545.2 417.3,546.0 428.9,540.8 440.4,537.4 452.0,539.2 463.5,546.0 475.1,543.0 486.6,543.0 498.2,546.8 509.7,549.0 521.2,535.9 532.8,534.8 544.4,531.9 555.9,534.0 567.5,534.0 579.0,535.9 590.6,535.9 602.1,536.8 613.7,534.0 625.2,520.8 636.8,520.8 648.3,532.0 659.9,532.0 671.4,530.3 683.0,526.3 694.5,523.0 706.1,518.5 717.6,523.7 729.2,523.7 740.7,522.3 752.2,522.3 763.8,529.7 775.4,526.3 786.9,527.4 798.5,535.2 810.0,527.4 821.6,519.7 833.1,517.4 844.7,515.7 856.2,510.8 867.8,508.0 879.3,508.0 890.9,508.5 902.4,515.2 914.0,511.9 925.5,515.2 937.1,520.8 948.6,535.2 960.2,539.2 971.7,539.2 983.3,539.2 994.8,538.5" fill="none" stroke="#ee1448" stroke-width="1.9" />
<polygon points="2,585 2,580.5 6.5,585" fill="#00a000"/>
</g>
<line x1="1.2" y1="0.0" x2="1.2" y2="586.0" stroke="#8c8c8c" stroke-width="1.6" />
<line x1="0.0" y1="372.0" x2="1080.0" y2="372.0" stroke="#b4b4b4" stroke-width="1.8" />
<line x1="0.0" y1="474.6" x2="1080.0" y2="474.6" stroke="#b4b4b4" stroke-width="1.8" />
<line x1="0.0" y1="585.6" x2="1080.0" y2="585.6" stroke="#a0a0a0" stroke-width="1.4" />
<line x1="1.5" y1="585.0" x2="1.5" y2="589.0" stroke="#c0c0c0" stroke-width="1.2" />
<line x1="70.8" y1="585.0" x2="70.8" y2="589.0" stroke="#c0c0c0" stroke-width="1.2" />
<line x1="140.1" y1="585.0" x2="140.1" y2="589.0" stroke="#c0c0c0" stroke-width="1.2" />
<line x1="209.4" y1="585.0" x2="209.4" y2="589.0" stroke="#c0c0c0" stroke-width="1.2" />
<line x1="278.7" y1="585.0" x2="278.7" y2="589.0" stroke="#c0c0c0" stroke-width="1.2" />
<line x1="348.0" y1="585.0" x2="348.0" y2="589.0" stroke="#c0c0c0" stroke-width="1.2" />
<line x1="417.3" y1="585.0" x2="417.3" y2="589.0" stroke="#c0c0c0" stroke-width="1.2" />
<line x1="486.6" y1="585.0" x2="486.6" y2="589.0" stroke="#c0c0c0" stroke-width="1.2" />
<line x1="555.9" y1="585.0" x2="555.9" y2="589.0" stroke="#c0c0c0" stroke-width="1.2" />
<line x1="625.2" y1="585.0" x2="625.2" y2="589.0" stroke="#c0c0c0" stroke-width="1.2" />
<line x1="694.5" y1="585.0" x2="694.5" y2="589.0" stroke="#c0c0c0" stroke-width="1.2" />
<line x1="763.8" y1="585.0" x2="763.8" y2="589.0" stroke="#c0c0c0" stroke-width="1.2" />
<line x1="833.1" y1="585.0" x2="833.1" y2="589.0" stroke="#c0c0c0" stroke-width="1.2" />
<line x1="902.4" y1="585.0" x2="902.4" y2="589.0" stroke="#c0c0c0" stroke-width="1.2" />
<line x1="971.7" y1="585.0" x2="971.7" y2="589.0" stroke="#c0c0c0" stroke-width="1.2" />
<polygon points="4.5,5 10.5,5 7.5,8.8" fill="#ffffff"/>
<text x="14.5" y="10.3" font-size="9.2" fill="#f0f0f0" font-family="Liberation Sans, sans-serif" textLength="58.5" lengthAdjust="spacingAndGlyphs" >XAUUSDe,Daily</text>
<text x="79.5" y="10.3" font-size="9.2" fill="#f0f0f0" font-family="Liberation Sans, sans-serif" textLength="140.5" lengthAdjust="spacingAndGlyphs" >1788.91 1792.25 1788.91 1791.53</text>
<text x="4.5" y="384" font-size="9.2" fill="#f0f0f0" font-family="Liberation Sans, sans-serif" textLength="177.5" lengthAdjust="spacingAndGlyphs" >MACD(12,26,9) 1.819 14.381 0.000 -16.331</text>
<text x="4.5" y="486.8" font-size="9.2" fill="#f0f0f0" font-family="Liberation Sans, sans-serif" textLength="148" lengthAdjust="spacingAndGlyphs" >KDJ(9,3,3) 18.3991 31.7525 -8.3076</text>
<text x="159" y="486.8" font-size="9.2" fill="#f0f0f0" font-family="Liberation Sans, sans-serif" textLength="66" lengthAdjust="spacingAndGlyphs" >RSI(14) 43.1352</text>
<text x="1.5" y="597.3" font-size="8.8" fill="#f0f0f0" font-family="Liberation Sans, sans-serif" textLength="45" lengthAdjust="spacingAndGlyphs" >29 Jul 2021</text>
<text x="70.8" y="597.3" font-size="8.8" fill="#f0f0f0" font-family="Liberation Sans, sans-serif" textLength="44.5" lengthAdjust="spacingAndGlyphs" >6 Aug 2021</text>
<text x="140.1" y="597.3" font-size="8.8" fill="#f0f0f0" font-family="Liberation Sans, sans-serif" textLength="49.5" lengthAdjust="spacingAndGlyphs" >16 Aug 2021</text>
<text x="209.4" y="597.3" font-size="8.8" fill="#f0f0f0" font-family="Liberation Sans, sans-serif" textLength="49.5" lengthAdjust="spacingAndGlyphs" >24 Aug 2021</text>
<text x="278.7" y="597.3" font-size="8.8" fill="#f0f0f0" font-family="Liberation Sans, sans-serif" textLength="44.5" lengthAdjust="spacingAndGlyphs" >1 Sep 2021</text>
<text x="348.0" y="597.3" font-size="8.8" fill="#f0f0f0" font-family="Liberation Sans, sans-serif" textLength="44.5" lengthAdjust="spacingAndGlyphs" >9 Sep 2021</text>
<text x="417.3" y="597.3" font-size="8.8" fill="#f0f0f0" font-family="Liberation Sans, sans-serif" textLength="49.5" lengthAdjust="spacingAndGlyphs" >17 Sep 2021</text>
<text x="486.6" y="597.3" font-size="8.8" fill="#f0f0f0" font-family="Liberation Sans, sans-serif" textLength="49.5" lengthAdjust="spacingAndGlyphs" >27 Sep 2021</text>
<text x="555.9" y="597.3" font-size="8.8" fill="#f0f0f0" font-family="Liberation Sans, sans-serif" textLength="44.5" lengthAdjust="spacingAndGlyphs" >5 Oct 2021</text>
<text x="625.2" y="597.3" font-size="8.8" fill="#f0f0f0" font-family="Liberation Sans, sans-serif" textLength="49.5" lengthAdjust="spacingAndGlyphs" >13 Oct 2021</text>
<text x="694.5" y="597.3" font-size="8.8" fill="#f0f0f0" font-family="Liberation Sans, sans-serif" textLength="49.5" lengthAdjust="spacingAndGlyphs" >21 Oct 2021</text>
<text x="763.8" y="597.3" font-size="8.8" fill="#f0f0f0" font-family="Liberation Sans, sans-serif" textLength="49.5" lengthAdjust="spacingAndGlyphs" >29 Oct 2021</text>
<text x="833.1" y="597.3" font-size="8.8" fill="#f0f0f0" font-family="Liberation Sans, sans-serif" textLength="44.5" lengthAdjust="spacingAndGlyphs" >8 Nov 2021</text>
<text x="902.4" y="597.3" font-size="8.8" fill="#f0f0f0" font-family="Liberation Sans, sans-serif" textLength="49.5" lengthAdjust="spacingAndGlyphs" >16 Nov 2021</text>
<text x="971.7" y="597.3" font-size="8.8" fill="#f0f0f0" font-family="Liberation Sans, sans-serif" textLength="49.5" lengthAdjust="spacingAndGlyphs" >24 Nov 2021</text>
<text x="482.5 522 561.5 601 637 659.6" y="49.2" font-size="39.5" fill="#ffff00" font-family="'Liberation Sans', 'Noto Sans CJK SC', sans-serif">伦敦金日K线</text>
<g opacity="0.40">
<circle cx="906.8" cy="519.1" r="23.35" fill="none" stroke="#ffffff" stroke-width="9.1"/>
<polygon points="902.6,510 915.8,512.8 913,526 899.8,522.6" fill="#ffffff"/>
<path d="M915.8,512.8 C924.5,514.5 922.5,528 913,526" fill="none" stroke="#ffffff" stroke-width="1.6"/>
<g transform="translate(932.5,501.3) rotate(-27)" fill="#ffffff">
<text x="0" y="0" font-size="21.8" font-weight="bold" fill="#ffffff" font-family="'Liberation Sans', sans-serif" textLength="71.5" lengthAdjust="spacingAndGlyphs">91PME</text>
<text x="72.5" y="0" font-size="22" fill="#ffffff" font-family="'Liberation Sans', sans-serif" textLength="61" lengthAdjust="spacingAndGlyphs">.COM</text>
</g>
<g transform="translate(951.7,508.3) rotate(-30)" fill="#ffffff">
<text x="-8.25 15.25 38.75 62.25 85.75 109.25" y="6.3" font-size="16.5" font-weight="bold" fill="#ffffff" font-family="'Liberation Sans', 'Noto Sans CJK SC', sans-serif">鑫汇宝贵金属</text>
</g>
</g>
</svg>
</body></html>
